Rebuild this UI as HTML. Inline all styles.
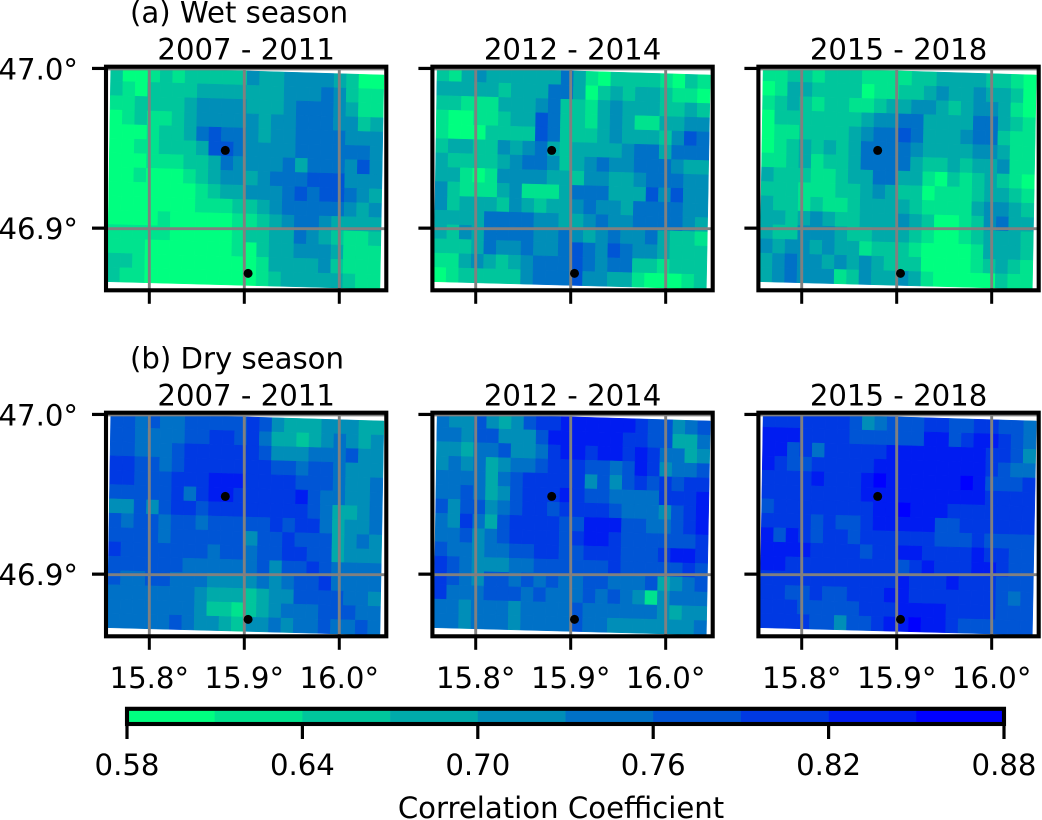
<!DOCTYPE html>
<html lang="en">
<head>
<meta charset="utf-8">
<title>Correlation Coefficient maps</title>
<style>
html,body{margin:0;padding:0;background:#fff;}
svg{display:block;}
text{font-family:"DejaVu Sans","Liberation Sans",sans-serif;font-size:29.17px;fill:#000;}
</style>
</head>
<body>
<svg id="chart" xmlns="http://www.w3.org/2000/svg" width="1042" height="820" viewBox="0 0 1042 820"></svg>
<script>
// Correlation coefficient x 100, rows north to south, columns west to east.
const wet2007 = [
[66,60,60,63,66,63,66,66,66,66,66,72,69,69,72,72,72,72,69,66,60,60],
[66,63,60,66,66,66,66,69,69,69,69,69,69,69,72,72,72,75,72,66,63,63],
[63,63,66,66,66,66,69,72,72,72,72,69,69,69,72,75,75,75,72,69,63,63],
[60,63,66,63,63,66,69,72,72,72,72,72,69,72,72,75,75,75,72,72,66,69],
[60,60,60,63,66,66,69,75,78,75,75,72,69,72,72,75,75,75,75,72,72,72],
[60,60,63,63,66,66,66,69,78,78,75,72,72,72,72,75,75,75,75,75,75,72],
[60,60,60,63,63,63,66,66,69,75,72,72,72,72,75,69,75,75,75,72,78,72],
[60,60,63,60,60,60,63,66,69,72,72,69,72,75,75,75,78,78,78,72,72,72],
[60,60,60,60,60,60,60,63,66,69,69,72,72,72,75,78,75,78,78,75,72,69],
[60,60,60,60,60,60,60,63,63,63,66,66,69,72,75,75,75,75,75,72,69,72],
[60,60,60,60,63,60,60,60,60,60,63,63,66,69,72,75,75,72,69,69,69,69],
[63,63,63,63,63,60,60,60,60,60,63,66,66,69,69,75,72,69,66,63,63,66],
[63,63,63,60,60,60,60,60,60,60,63,60,66,69,69,72,72,72,69,63,63,63],
[66,66,63,60,60,60,60,60,60,60,60,60,63,69,69,69,69,72,66,63,63,63],
[66,63,63,60,60,60,60,60,60,60,60,60,63,66,69,69,69,69,69,66,63,63]];
const wet2012 = [
[66,63,69,72,69,69,69,69,69,69,75,69,63,60,66,66,66,66,63,60,66,63],
[69,69,69,69,69,66,69,69,69,75,75,69,60,66,69,66,69,69,66,63,63,60],
[66,66,63,63,63,69,69,69,72,75,66,66,63,69,72,69,69,69,66,66,69,66],
[63,60,60,63,63,66,69,69,78,75,66,66,63,69,72,69,63,63,69,69,72,72],
[63,60,60,60,66,66,66,66,78,75,66,66,66,69,72,69,69,69,66,72,78,75],
[66,69,69,66,66,72,69,72,75,69,66,69,69,69,69,72,75,75,69,75,75,75],
[69,66,66,66,66,69,72,75,75,72,66,69,72,75,72,72,75,75,75,72,69,69],
[69,69,63,60,63,72,72,72,72,69,69,66,72,72,69,69,72,75,75,75,72,72],
[72,66,63,63,63,69,72,63,63,63,69,75,75,75,69,69,69,78,72,78,72,72],
[72,66,69,69,69,66,72,69,66,69,69,72,75,72,72,69,75,75,75,75,72,72],
[69,69,69,69,75,75,75,75,72,72,69,69,72,75,72,72,75,75,75,75,72,69],
[69,66,72,69,75,75,75,75,72,72,75,72,69,72,75,72,72,75,69,66,66,63],
[66,66,66,69,75,72,72,75,72,72,75,78,75,72,78,75,72,72,69,66,66,66],
[63,63,69,72,69,66,69,72,75,75,75,78,75,72,75,75,66,66,63,66,66,66],
[60,63,66,66,66,66,66,72,75,75,75,78,72,72,69,69,63,60,60,60,63,66]];
const wet2015 = [
[63,63,66,66,63,66,66,66,63,63,63,63,66,66,69,69,69,69,66,66,63,60],
[60,63,69,69,66,66,66,66,60,63,63,66,66,69,72,69,69,72,69,69,66,60],
[63,66,69,66,63,66,66,63,63,66,69,69,72,72,69,66,69,72,72,69,63,60],
[60,66,66,66,66,66,66,66,69,72,72,75,75,69,69,69,69,75,75,69,66,63],
[60,63,63,66,66,66,66,69,72,75,75,78,75,69,69,69,72,75,75,66,63,63],
[60,63,66,69,66,69,66,69,75,75,75,75,72,69,69,69,69,72,72,69,63,63],
[63,63,66,69,63,66,66,69,75,75,75,75,69,66,66,69,66,69,69,72,63,63],
[69,66,66,66,63,63,66,69,69,75,75,69,69,63,60,66,63,66,69,66,63,60],
[66,66,66,63,63,63,66,66,69,72,69,66,66,60,63,63,63,66,69,69,66,63],
[69,66,66,63,66,63,63,66,69,69,69,69,66,63,63,63,63,69,72,72,69,66],
[69,69,66,69,72,69,66,66,69,69,69,72,69,66,60,60,63,66,72,75,69,69],
[69,66,66,72,72,72,69,66,66,69,69,69,66,63,60,60,63,66,69,69,69,66],
[72,69,72,72,69,72,69,69,63,66,66,66,63,60,60,60,60,63,69,69,69,66],
[69,72,75,72,72,69,72,69,72,69,66,66,66,60,60,60,60,63,66,69,66,63],
[69,72,75,72,72,72,63,66,72,69,69,72,69,63,60,60,60,60,60,66,63,63]];
const dry2007 = [
[78,78,75,78,75,75,78,78,78,78,78,81,78,72,69,69,69,72,72,72,69,69],
[78,78,75,75,75,75,78,78,81,81,78,81,75,69,69,66,69,72,75,72,69,72],
[78,78,75,75,75,78,81,81,81,81,81,81,78,72,72,72,75,75,75,78,72,72],
[81,81,78,78,75,78,81,81,81,81,81,81,81,78,78,75,78,78,75,72,72,72],
[81,81,78,78,78,81,81,81,84,84,84,81,81,81,81,78,78,78,75,72,72,75],
[78,78,78,78,78,81,75,81,84,84,81,81,81,81,81,84,78,75,75,72,72,75],
[72,72,78,72,78,81,81,78,81,81,81,81,81,81,81,81,78,75,69,69,72,75],
[78,75,78,78,75,78,78,75,78,78,78,78,78,81,78,81,81,75,69,72,72,75],
[78,78,78,78,75,78,78,78,78,78,78,72,78,78,81,78,78,78,69,72,75,72],
[81,78,78,78,78,78,78,78,75,78,78,75,78,78,81,81,78,78,69,72,72,72],
[78,78,78,78,78,78,75,75,75,75,75,75,78,72,78,78,81,78,75,75,75,75],
[78,75,75,78,78,75,75,75,72,72,72,72,75,72,75,78,78,81,75,75,75,75],
[75,75,75,75,75,75,75,72,69,69,69,66,69,72,72,78,78,78,78,75,75,72],
[75,75,75,75,75,75,75,72,66,66,63,66,69,72,75,75,75,78,78,78,75,75],
[75,75,75,75,75,78,75,72,72,69,66,72,72,75,72,75,75,78,75,75,78,75]];
const dry2012 = [
[75,72,72,78,72,69,72,78,81,81,84,84,84,84,84,84,81,78,78,72,75,78],
[75,75,72,78,78,72,72,72,78,84,84,84,84,84,84,81,81,78,78,69,69,75],
[72,72,69,75,75,78,72,72,75,81,84,84,81,84,84,81,84,81,75,75,69,72],
[72,75,72,75,69,72,75,75,78,81,81,81,78,78,75,78,84,81,72,75,75,78],
[75,75,75,75,69,75,78,81,81,81,81,81,72,78,72,78,81,78,81,78,81,81],
[75,75,78,75,69,72,78,81,81,81,84,81,78,78,75,75,75,75,81,81,81,84],
[78,72,78,78,72,75,78,81,81,78,81,81,81,81,78,75,75,75,72,78,81,84],
[75,72,81,75,69,78,81,81,81,81,78,78,84,84,84,78,78,75,75,78,81,84],
[75,75,78,72,75,78,81,81,81,81,78,81,84,84,81,78,78,78,78,78,78,81],
[78,75,75,72,75,75,78,78,81,81,78,78,81,81,81,78,78,78,81,84,84,81],
[81,78,75,72,72,72,75,75,78,78,78,78,78,78,81,78,78,78,78,78,81,78],
[81,78,75,72,78,78,75,78,75,78,75,75,78,78,75,75,75,78,69,72,75,78],
[81,75,75,75,78,78,78,75,78,75,75,75,78,75,78,75,72,63,72,75,75,75],
[75,75,72,75,75,75,72,75,75,75,75,78,75,75,75,75,75,75,72,69,72,72],
[75,75,72,75,75,75,72,75,75,75,75,78,75,75,72,72,72,72,72,72,72,75]];
const dry2015 = [
[81,81,81,81,81,81,81,78,72,75,78,78,78,81,81,78,78,81,81,78,78,75],
[84,84,84,81,81,81,81,78,78,78,78,78,78,84,84,78,81,84,84,81,78,75],
[84,84,78,81,75,81,81,81,81,81,84,84,84,84,84,84,84,84,81,81,78,72],
[84,81,78,78,81,81,81,81,81,84,84,84,84,84,84,84,84,84,81,78,75,75],
[81,81,81,81,84,81,81,81,84,87,84,84,84,84,84,84,87,84,78,78,78,81],
[81,81,81,81,81,81,81,81,84,84,84,84,84,84,84,84,84,84,81,81,81,81],
[78,81,81,81,81,81,81,81,81,84,84,87,84,84,84,81,81,81,81,81,81,81],
[81,81,81,81,78,81,78,78,81,84,84,84,84,84,78,78,81,81,81,81,81,81],
[84,78,84,81,78,81,81,78,81,81,81,81,81,81,78,78,78,81,78,78,78,78],
[84,84,84,84,81,81,81,81,78,81,81,84,84,81,81,81,81,84,81,81,78,78],
[84,84,81,81,81,81,81,81,81,81,81,78,81,84,81,81,81,84,84,81,78,78],
[81,81,81,81,81,81,81,81,81,81,81,84,81,81,81,84,81,81,81,78,78,78],
[81,81,78,78,81,78,78,81,81,81,84,84,81,81,81,81,81,81,81,78,75,78],
[81,81,81,78,78,78,78,78,81,81,81,84,84,84,84,81,81,81,81,78,78,78],
[81,81,81,81,78,78,72,78,78,81,84,84,87,84,84,81,78,78,78,78,78,78]];

const periods = ["2007 - 2011", "2012 - 2014", "2015 - 2018"];
const lonTicks = [15.8, 15.9, 16.0];
const latTicks = [47.0, 46.9];
const siteLons = [15.88, 15.904];
const siteLats = [46.949, 46.872];
const colorbarTicks = [0.58, 0.64, 0.70, 0.76, 0.82, 0.88];
const colorbarLevels = [0, 1, 2, 3, 4, 5, 6, 7, 8, 9];

const NS = "http://www.w3.org/2000/svg";
const svg = document.getElementById("chart");
const LON_MIN = 15.7544, LON_MAX = 16.0495, LAT_MIN = 46.8614, LAT_MAX = 47.0014;
const PANEL_W = 280.3, PANEL_H = 223.6;
const CB_MIN = 0.58, CB_MAX = 0.88;
const CORNER_TL = [15.7594, 47.0013], CORNER_TR = [16.047, 46.9962];
const CORNER_BL = [15.7558, 46.8668], CORNER_BR = [16.0428, 46.8622];

function mk(tag, attrs, parent) {
  const el = document.createElementNS(NS, tag);
  for (const k in attrs) el.setAttribute(k, attrs[k]);
  (parent || svg).appendChild(el);
  return el;
}
function levelColor(level) {
  const t = level / 9;
  const g = Math.round(255 * (1 - t));
  const b = Math.round(128 + 127 * t);
  return "rgb(0," + g + "," + b + ")";
}
function valueColor(pct) {
  const level = Math.max(0, Math.min(9, Math.floor((pct - 58) / 3)));
  return levelColor(level);
}
function meshPoint(u, v) {
  const lon = (1 - v) * ((1 - u) * CORNER_TL[0] + u * CORNER_TR[0]) + v * ((1 - u) * CORNER_BL[0] + u * CORNER_BR[0]);
  const lat = (1 - v) * ((1 - u) * CORNER_TL[1] + u * CORNER_TR[1]) + v * ((1 - u) * CORNER_BL[1] + u * CORNER_BR[1]);
  return [lon, lat];
}
function drawPanel(values, left, top, idx, period, showLat, showLon) {
  const xOf = lon => left + (lon - LON_MIN) / (LON_MAX - LON_MIN) * PANEL_W;
  const yOf = lat => top + (LAT_MAX - lat) / (LAT_MAX - LAT_MIN) * PANEL_H;
  const g = mk("g", {});
  
  
  const clip = mk("clipPath", { id: "clip" + idx }, g);
  mk("rect", { x: left, y: top, width: PANEL_W, height: PANEL_H }, clip);
  const mesh = mk("g", { "clip-path": "url(#clip" + idx + ")" }, g);
  
  
  const rows = values.length;
  values.forEach((row, r) => {
    row.forEach((v, c) => {
      const cols = row.length;
      const pts = [[c / cols, r / rows], [(c + 1) / cols, r / rows], [(c + 1) / cols, (r + 1) / rows], [c / cols, (r + 1) / rows]]
        .map(p => meshPoint(p[0], p[1]))
        .map(p => xOf(p[0]).toFixed(2) + "," + yOf(p[1]).toFixed(2)).join(" ");
      const col = valueColor(v);
      const cell = mk("polygon", { points: pts, fill: col, stroke: col, "stroke-width": 0.5 }, mesh);
      
      
    });
  });
  lonTicks.forEach(t => {
    const x = xOf(t);
    const line = mk("line", { x1: x, x2: x, y1: top, y2: top + PANEL_H, stroke: "#808080", "stroke-width": 2.9 }, g);
    
    
    const tick = mk("line", { x1: x, x2: x, y1: top + PANEL_H, y2: top + PANEL_H + 13.5, stroke: "#000", "stroke-width": 3 }, g);
    
    
    if (showLon) {
      const lab = mk("text", { x: x, y: 688, "text-anchor": "middle" }, g);
      lab.textContent = t.toFixed(1) + "°";
      
      
    }
  });
  latTicks.forEach(t => {
    const y = yOf(t);
    const line = mk("line", { x1: left, x2: left + PANEL_W, y1: y, y2: y, stroke: "#808080", "stroke-width": 2.9 }, g);
    
    
    const tick = mk("line", { x1: left - 14, x2: left, y1: y - 0.5, y2: y - 0.5, stroke: "#000", "stroke-width": 3.2 }, g);
    
    
    if (showLat) {
      const lab = mk("text", { x: 78, y: y + 10.5, "text-anchor": "end" }, g);
      lab.textContent = t.toFixed(1) + "°";
      
      
    }
  });
  siteLons.forEach((lon, i) => {
    const dot = mk("circle", { cx: xOf(lon), cy: yOf(siteLats[i]), r: 4.5, fill: "#000" }, g);
    
    
  });
  const frame = mk("rect", { x: left, y: top, width: PANEL_W, height: PANEL_H, fill: "none", stroke: "#000", "stroke-width": 4.1 }, g);
  
  
  const title = mk("text", { x: left + PANEL_W / 2, y: top - 7.4, "text-anchor": "middle" }, g);
  title.textContent = period;
  
  
}
const lefts = [106, 432.4, 758.4];
const TOP_WET = 66.7, TOP_DRY = 412.7;
[wet2007, wet2012, wet2015].forEach((d, i) => drawPanel(d, lefts[i], TOP_WET, "wet-" + i, periods[i], i === 0, false));
[dry2007, dry2012, dry2015].forEach((d, i) => drawPanel(d, lefts[i], TOP_DRY, "dry-" + i, periods[i], i === 0, true));

const wetHead = mk("text", { x: 130, y: 22.4 });
wetHead.textContent = "(a) Wet season";


const dryHead = mk("text", { x: 130, y: 368.4 });
dryHead.textContent = "(b) Dry season";



// Colorbar
const CB_L = 127, CB_R = 1004, CB_T = 708.8, CB_B = 724;
const cbX = v => CB_L + (v - CB_MIN) / (CB_MAX - CB_MIN) * (CB_R - CB_L);
const cb = mk("g", {});


colorbarLevels.forEach(l => {
  const a = cbX(CB_MIN + l * 0.03), b = cbX(CB_MIN + (l + 1) * 0.03);
  const seg = mk("rect", { x: a, y: CB_T, width: b - a + 0.3, height: CB_B - CB_T, fill: levelColor(l) }, cb);
  
  
});
const cbFrame = mk("rect", { x: CB_L, y: CB_T, width: CB_R - CB_L, height: CB_B - CB_T, fill: "none", stroke: "#000", "stroke-width": 4.1 }, cb);


colorbarTicks.forEach(t => {
  const x = cbX(t);
  const tick = mk("line", { x1: x, x2: x, y1: CB_B, y2: CB_B + 15, stroke: "#000", "stroke-width": 3.2 }, cb);
  
  
  const lab = mk("text", { x: x, y: 775, "text-anchor": "middle" }, cb);
  lab.textContent = t.toFixed(2);
  
  
});
const cbTitle = mk("text", { x: 561, y: 818, "text-anchor": "middle" }, cb);
cbTitle.textContent = "Correlation Coefficient";


</script>
</body>
</html>
